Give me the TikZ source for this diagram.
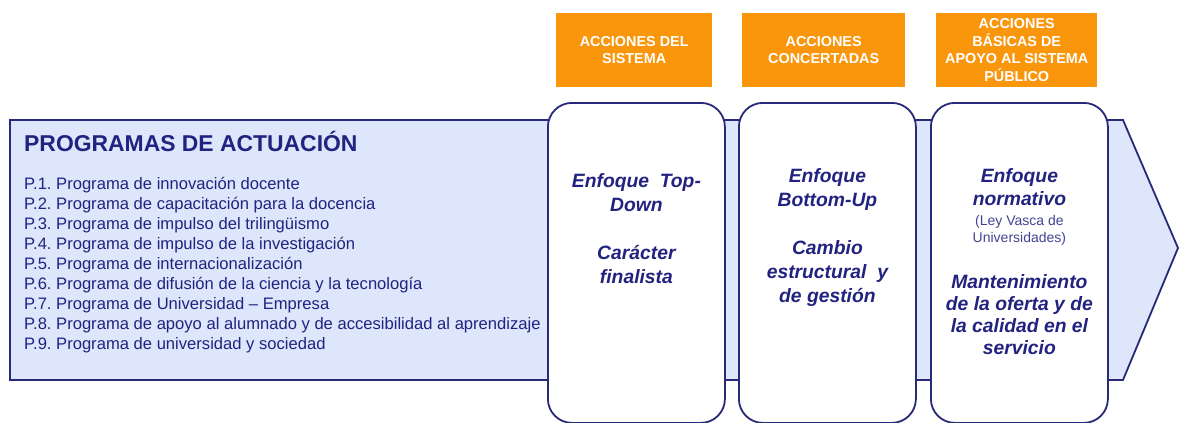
\documentclass[tikz,border=0pt]{standalone}
\usepackage{fontspec}
\setmainfont{Liberation Sans}
\usepackage{array}
\frenchspacing
\definecolor{navy}{RGB}{34,34,128}
\definecolor{edgeblue}{RGB}{40,42,120}
\definecolor{arrowfill}{RGB}{221,230,250}
\definecolor{orangebox}{RGB}{250,150,12}
\tikzset{
  rbox/.style={draw=edgeblue, line width=1.8pt, fill=white, rounded corners=24pt,
    minimum width=177pt, minimum height=320pt, anchor=north west, inner sep=0pt},
  obox/.style={fill=orangebox, text=white, inner sep=0pt, anchor=north west,
    minimum height=74pt, align=center,
    font=\fontsize{14.4}{17.6}\selectfont\bfseries},
  bigtxt/.style={text=navy, inner sep=0pt, anchor=base,
    font=\fontsize{19.3}{24}\selectfont\bfseries\itshape},
  smalltxt/.style={text=navy!85!white, inner sep=0pt, anchor=base,
    font=\fontsize{14}{17}\selectfont},
}
\begin{document}
\begin{tikzpicture}[x=1pt,y=-1pt]
\useasboundingbox (0,0) rectangle (1181,423);
% big arrow
\draw[draw=edgeblue, line width=1.8pt, fill=arrowfill, line join=miter]
  (10,120) -- (1123,120) -- (1178,248) -- (1123,380) -- (10,380) -- cycle;
% title and list
\node[text=navy, inner sep=0pt, anchor=base west,
  font=\fontsize{22.9}{27}\selectfont\bfseries] (title) at (24,151) {PROGRAMAS DE ACTUACIÓN};
\node[text=navy, inner sep=0pt, anchor=base west, font=\fontsize{16.6}{20}\selectfont] (list) at (24,189)
  {\renewcommand{\arraystretch}{1}\begin{tabular}[t]{@{}l@{}}
  P.1. Programa de innovación docente\\
  P.2. Programa de capacitación para la docencia\\
  P.3. Programa de impulso del trilingüismo\\
  P.4. Programa de impulso de la investigación\\
  P.5. Programa de internacionalización\\
  P.6. Programa de difusión de la ciencia y la tecnología\\
  P.7. Programa de Universidad – Empresa\\
  P.8. Programa de apoyo al alumnado y de accesibilidad al aprendizaje\\
  P.9. Programa de universidad y sociedad
  \end{tabular}};
% rounded boxes
\node[rbox] (b1) at (547,102) {};
\node[rbox] (b2) at (738,102) {};
\node[rbox] (b3) at (930,102) {};
% orange headers
\node[obox, minimum width=156pt] (o1) at (556,13) {ACCIONES DEL\\SISTEMA};
\node[obox, minimum width=163pt] (o2) at (742,13) {ACCIONES\\CONCERTADAS};
\node[obox, minimum width=161pt] (o3) at (936,13) {ACCIONES\\BÁSICAS DE\\APOYO AL SISTEMA\\PÚBLICO};
% box 1 texts
\node[bigtxt] (t1a) at (b1.north |- 0,187)
  {\begin{tabular}[t]{@{}c@{}}Enfoque~~Top-\\Down\end{tabular}};
\node[bigtxt] (t1b) at (b1.north |- 0,259)
  {\begin{tabular}[t]{@{}c@{}}Carácter\\finalista\end{tabular}};
% box 2 texts
\node[bigtxt] (t2a) at (b2.north |- 0,182)
  {\begin{tabular}[t]{@{}c@{}}Enfoque\\Bottom-Up\end{tabular}};
\node[bigtxt] (t2b) at (b2.north |- 0,254)
  {\begin{tabular}[t]{@{}c@{}}Cambio\\estructural~~y\\de gestión\end{tabular}};
% box 3 texts
\node[bigtxt, font=\fontsize{19.3}{23}\selectfont\bfseries\itshape] (t3a) at (b3.north |- 0,182)
  {\begin{tabular}[t]{@{}c@{}}Enfoque\\normativo\end{tabular}};
\node[smalltxt] (t3b) at (b3.north |- 0,225)
  {\begin{tabular}[t]{@{}c@{}}(Ley Vasca de\\Universidades)\end{tabular}};
\node[bigtxt, font=\fontsize{19.3}{22}\selectfont\bfseries\itshape] (t3c) at (b3.north |- 0,288)
  {\begin{tabular}[t]{@{}c@{}}Mantenimiento\\de la oferta y de\\la calidad en el\\servicio\end{tabular}};
\end{tikzpicture}
\end{document}
